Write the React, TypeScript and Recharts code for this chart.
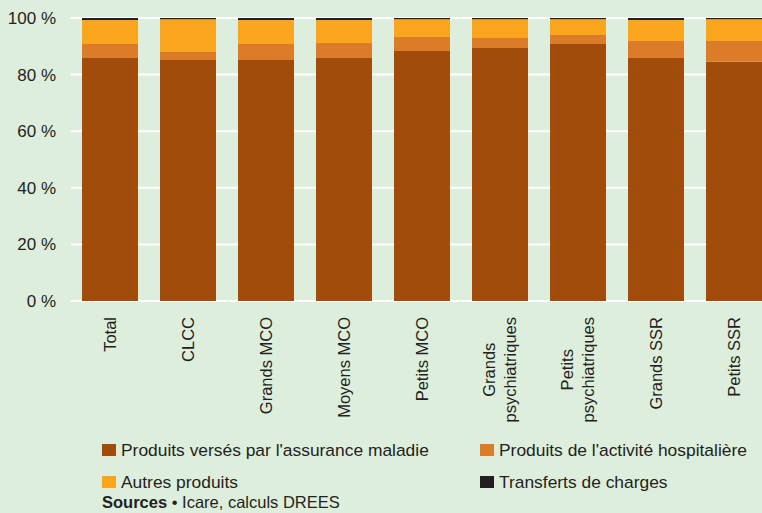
import React from "react";
import { BarChart, Bar, XAxis, YAxis, CartesianGrid } from "recharts";

const categories = [
  "Total",
  "CLCC",
  "Grands MCO",
  "Moyens MCO",
  "Petits MCO",
  "Grands\npsychiatriques",
  "Petits\npsychiatriques",
  "Grands SSR",
  "Petits SSR",
];

const assuranceMaladie = [85.9, 85.2, 85.2, 85.9, 88.3, 89.4, 90.8, 85.9, 84.5];
const activiteHospitaliere = [4.9, 2.8, 5.6, 5.3, 5.0, 3.5, 3.2, 6.0, 7.4];
const autresProduits = [8.5, 11.6, 8.5, 8.1, 6.3, 6.7, 5.6, 7.4, 7.7];
const transferts = [0.7, 0.4, 0.7, 0.7, 0.4, 0.4, 0.4, 0.7, 0.4];

const yTicks = [0, 20, 40, 60, 80, 100];

const series = [
  { key: "am", name: "Produits versés par l'assurance maladie", color: "#a24c0b" },
  { key: "ah", name: "Produits de l'activité hospitalière", color: "#dc7b28" },
  { key: "ap", name: "Autres produits", color: "#f9a61e" },
  { key: "tc", name: "Transferts de charges", color: "#231f20" },
];

const data = categories.map((c, i) => ({
  name: c,
  am: assuranceMaladie[i],
  ah: activiteHospitaliere[i],
  ap: autresProduits[i],
  tc: transferts[i],
}));

const FONT = "'Liberation Sans', Arial, sans-serif";
const TEXT = "#231f20";
const BG = "#deeedc";

let canvas: HTMLCanvasElement | null = null;
function textWidth(s: string, font: string) {
  if (!canvas) canvas = document.createElement("canvas");
  const ctx = canvas.getContext("2d");
  if (!ctx) return s.length * 8;
  ctx.font = font;
  return ctx.measureText(s).width;
}

// rotated labels, lines centred on each other, longest one ending at the top
function CategoryTick(props: any) {
  const { x, y, payload } = props;
  const lines: string[] = String(payload.value).split("\n");
  const size = 16.5;
  const lh = 21;
  const maxW = Math.max(...lines.map((l) => textWidth(l, `${size}px ${FONT}`)));
  return (
    <g transform={`translate(${x},${y})`}>
      <g transform="rotate(-90)">
        {lines.map((l, i) => (
          <text
            key={i}
            x={-maxW / 2}
            y={(i - (lines.length - 1) / 2) * lh + size * 0.36}
            textAnchor="middle"
            fontSize={size}
            fontFamily={FONT}
            fill={TEXT}
          >
            {l}
          </text>
        ))}
      </g>
    </g>
  );
}

function LegendItem({ color, label, x, y }: { color: string; label: string; x: number; y: number }) {
  return (
    <div
      style={{
        position: "absolute",
        left: x,
        top: y,
        display: "flex",
        alignItems: "center",
        height: 20,
        fontFamily: FONT,
        fontSize: 17.4,
        color: TEXT,
        whiteSpace: "nowrap",
      }}
    >
      <span style={{ width: 14, height: 12, background: color, marginRight: 5, display: "inline-block" }} />
      {label}
    </div>
  );
}

export default function App() {
  return (
    <div
      style={{
        position: "absolute",
        left: 0,
        top: 0,
        width: 762,
        height: 513,
        overflow: "hidden",
        background: BG,
      }}
    >
      <BarChart
        width={780}
        height={440}
        data={data}
        margin={{ top: 18, right: 7, left: 0, bottom: 0 }}
        barSize={56}
      >
        <CartesianGrid vertical={false} stroke="#ffffff" strokeWidth={2} />
        <XAxis
          dataKey="name"
          interval={0}
          axisLine={false}
          tickLine={false}
          tickMargin={10}
          height={139}
          tick={<CategoryTick />}
        />
        <YAxis
          domain={[0, 100]}
          ticks={yTicks}
          width={71}
          axisLine={false}
          tickLine={false}
          tickMargin={9}
          tickFormatter={(v: number) => `${v} %`}
          tick={{ fontSize: 17, fontFamily: FONT, fill: TEXT }}
        />
        {series.map((s) => (
          <Bar
            key={s.key}
            dataKey={s.key}
            name={s.name}
            stackId="a"
            fill={s.color}
            isAnimationActive={false}
          />
        ))}
      </BarChart>
      <LegendItem color={series[0].color} label={series[0].name} x={102} y={440} />
      <LegendItem color={series[1].color} label={series[1].name} x={480} y={440} />
      <LegendItem color={series[2].color} label={series[2].name} x={102} y={472} />
      <LegendItem color={series[3].color} label={series[3].name} x={480} y={472} />
      <div
        style={{
          position: "absolute",
          left: 102,
          top: 493,
          height: 20,
          lineHeight: "19px",
          fontFamily: FONT,
          fontSize: 16.5,
          color: TEXT,
          whiteSpace: "nowrap",
        }}
      >
        <b>Sources</b> • Icare, calculs DREES
      </div>
    </div>
  );
}
